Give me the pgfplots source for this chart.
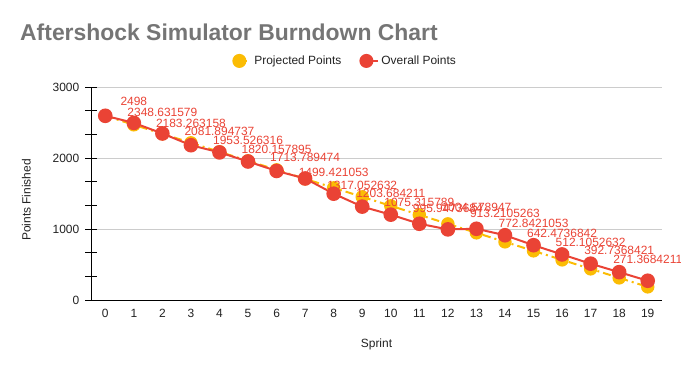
\documentclass[border=0pt]{standalone}
\usepackage{pgfplots}
\pgfplotsset{compat=1.18}
\usepackage{fontspec}
\setmainfont{Liberation Sans}
\definecolor{gyellow}{HTML}{FBBC04}
\definecolor{gred}{HTML}{EA4335}
\definecolor{titlegray}{HTML}{757575}
\definecolor{gridgray}{HTML}{CCCCCC}
\definecolor{txt}{HTML}{222222}
\begin{document}
\begin{tikzpicture}
\path[use as bounding box] (0,0) rectangle (681bp,371bp);
\begin{axis}[
  at={(91bp,71bp)}, anchor=south west,
  scale only axis, width=571bp, height=212.7bp,
  xmin=-0.5, xmax=19.5, ymin=0, ymax=3000,
  xtick={0,1,...,19},
  ytick={0,1000,2000,3000},
  minor y tick num=2,
  axis x line*=bottom, axis y line*=left,
  axis line style={-, black, line width=1bp},
  tick align=center,
  major tick length=11bp, minor tick length=11bp,
  xtick style={draw=none},
  ytick style={black, line width=1bp},
  minor tick style={black, line width=1bp},
  ymajorgrids, major grid style={gridgray, line width=0.8bp},
  /pgf/number format/assume math mode=true,
  /pgf/number format/1000 sep={},
  tick label style={font=\fontsize{12}{14}\selectfont, text=txt},
  yticklabel style={anchor=east, inner sep=0pt, xshift=-6bp},
  xticklabel style={anchor=center, inner sep=0pt, yshift=-8bp},
  xlabel={Sprint}, ylabel={Points Finished},
  every axis x label/.style={at={(axis description cs:0.5,-0.207)}, anchor=center,
    font=\fontsize{12}{14}\selectfont, text=txt},
  every axis y label/.style={at={(axis description cs:-0.113,0.47)}, rotate=90, anchor=center,
    font=\fontsize{12}{14}\selectfont, text=txt},
  legend style={at={(0.445,1.124)}, anchor=center, draw=none, fill=none,
    font=\fontsize{12}{14}\selectfont, text=txt,
    /tikz/every even column/.append style={column sep=16bp}},
  legend columns=2, legend cell align=left,
  legend image code/.code={\fill[#1, solid] (0,0) circle (6bp); \path (-6bp,0) -- (12bp,0);},
  clip=false,
]
\addplot[gyellow, line width=2bp, dash pattern=on 8bp off 4bp on 2bp off 4bp,
  mark=*, mark size=5.7bp, mark options={solid, fill=gyellow, draw=none}]
coordinates {
(0,2598) (1,2471) (2,2344) (3,2217) (4,2090) (5,1963) (6,1836) (7,1709)
(8,1582) (9,1455) (10,1328) (11,1201) (12,1074) (13,947) (14,820)
(15,693) (16,566) (17,439) (18,312) (19,185)
};
\addlegendentry{Projected Points}
\addplot[gred, line width=2bp, mark=*, mark size=6.3bp,
  mark options={solid, fill=gred, draw=none}]
coordinates {
(0,2598) (1,2498) (2,2348.631579) (3,2183.263158) (4,2081.894737)
(5,1953.526316) (6,1820.157895) (7,1713.789474) (8,1499.421053)
(9,1317.052632) (10,1203.684211) (11,1075.315789) (12,995.9473684)
(13,1004.578947) (14,913.2105263) (15,772.8421053) (16,642.4736842)
(17,512.1052632) (18,392.7368421) (19,271.3684211)
};
\addlegendentry{Overall Points}
\addplot[draw=none, forget plot, nodes near coords, point meta=explicit symbolic,
  every node near coord/.append style={anchor=center, yshift=21.5bp, inner sep=0pt,
    font=\fontsize{12}{14}\selectfont, text=gred}]
coordinates {
(1,2498) [2498] (2,2348.631579) [2348.631579] (3,2183.263158) [2183.263158]
(4,2081.894737) [2081.894737] (5,1953.526316) [1953.526316]
(6,1820.157895) [1820.157895] (7,1713.789474) [1713.789474]
(8,1499.421053) [1499.421053] (9,1317.052632) [1317.052632]
(10,1203.684211) [1203.684211] (11,1075.315789) [1075.315789]
(12,995.9473684) [995.9473684] (13,1004.578947) [1004.578947]
(14,913.2105263) [913.2105263] (15,772.8421053) [772.8421053]
(16,642.4736842) [642.4736842] (17,512.1052632) [512.1052632]
(18,392.7368421) [392.7368421] (19,271.3684211) [271.3684211]
};
\end{axis}
\node[anchor=west, inner sep=0pt, text=titlegray, font=\fontsize{23}{24}\selectfont\bfseries] at (20bp,339bp) {Aftershock Simulator Burndown Chart};
\end{tikzpicture}
\end{document}
